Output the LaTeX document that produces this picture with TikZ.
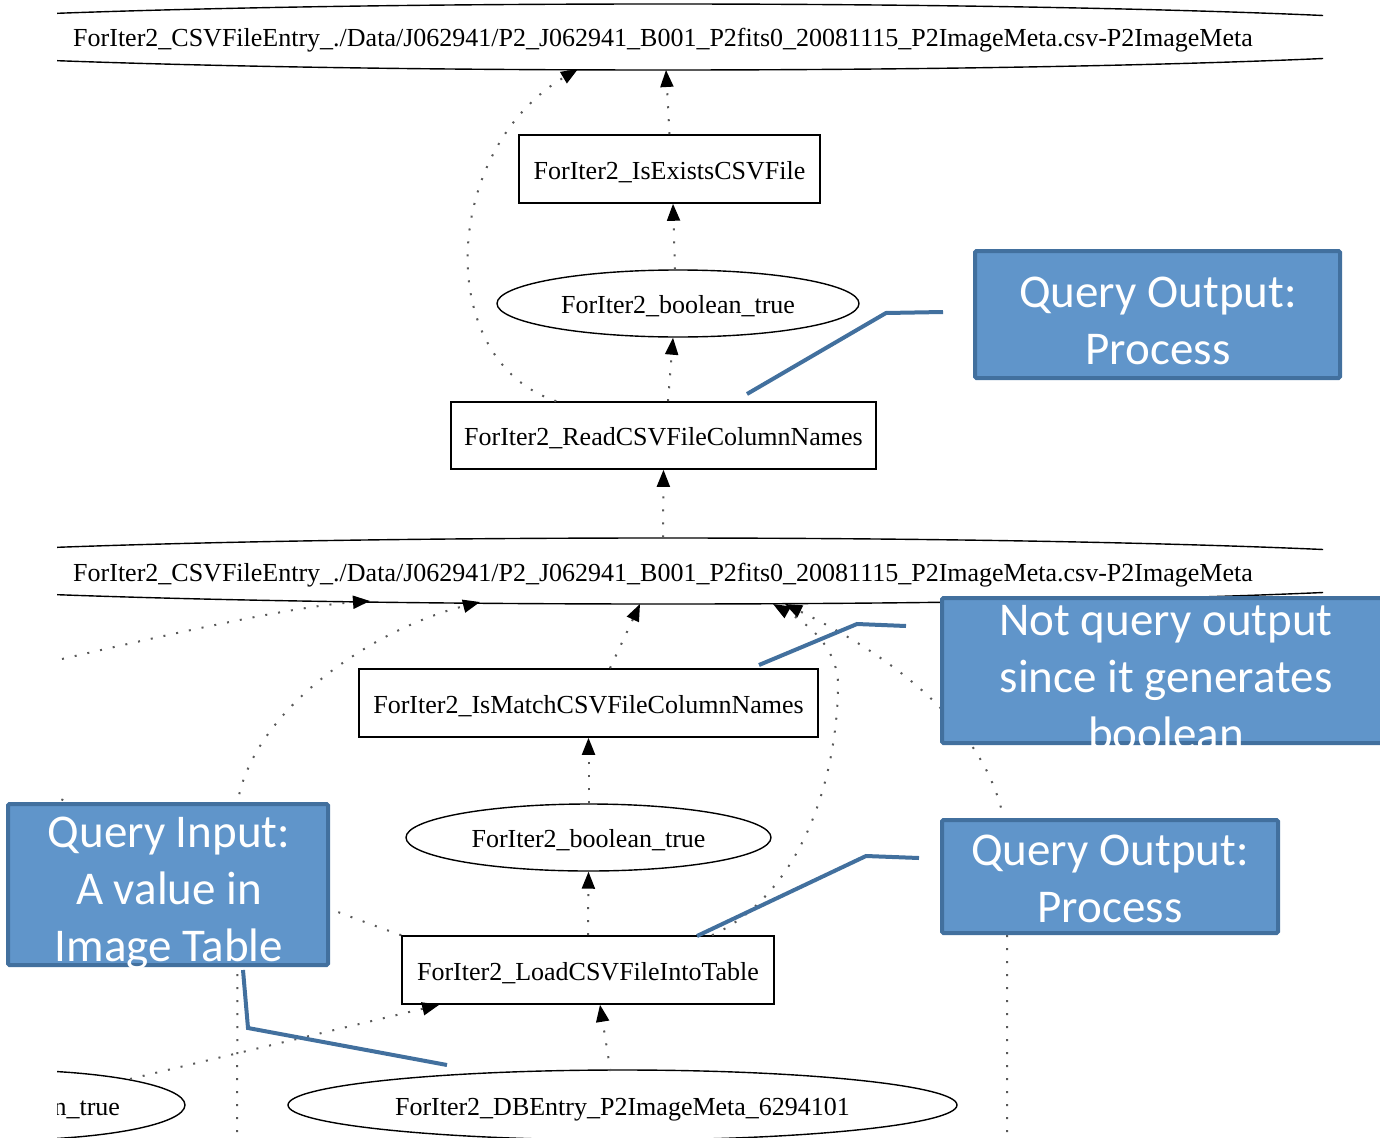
\documentclass[tikz,border=0pt]{standalone}
\usepackage{fontspec}
\setmainfont{Liberation Serif}
\newfontfamily\calloutfont{Carlito}
\usetikzlibrary{shapes.geometric,arrows.meta,calc}
\definecolor{calloutfill}{RGB}{96,149,202}
\definecolor{calloutborder}{RGB}{66,112,158}
\begin{document}
\begin{tikzpicture}[x=1pt,y=-1pt,
  gtext/.style={font=\fontsize{26}{31}\selectfont, inner sep=0pt, text height=20pt, text depth=0pt},
  procbox/.style={gtext, draw=black, line width=1.6pt, rectangle},
  dataell/.style={gtext, draw=black, line width=1.4pt, ellipse},
  depline/.style={draw=black!65, line width=2pt, dash pattern=on 2pt off 11pt},
  dep/.style={depline, -{Triangle[length=17pt,width=13pt,color=black]}},
  calloutbox/.style={draw=calloutborder, fill=calloutfill, line width=4pt, rectangle, inner sep=0pt, rounded corners=1.5pt},
  callouttext/.style={text=white, font=\calloutfont\fontsize{47}{57}\selectfont, align=center, inner sep=0pt},
  calloutline/.style={draw=calloutborder, line width=4pt},
]
\useasboundingbox (0,0) rectangle (1380,1137);

\begin{scope}
\clip (57,-10) rectangle (1323,1150);
% nodes
\node[dataell, minimum width=1740pt, minimum height=66pt] (E1) at (663,37) {ForIter2\_CSVFileEntry\_./Data/J062941/P2\_J062941\_B001\_P2fits0\_20081115\_P2ImageMeta.csv-P2ImageMeta};
\node[procbox, minimum width=301pt, minimum height=68pt] (IsExists) at (669.5,169) {ForIter2\_IsExistsCSVFile};
\node[dataell, minimum width=362pt, minimum height=67pt] (bool1) at (678,303.5) {ForIter2\_boolean\_true};
\node[procbox, minimum width=425pt, minimum height=67pt] (Read) at (663.5,435.5) {ForIter2\_ReadCSVFileColumnNames};
\node[dataell, minimum width=1740pt, minimum height=66pt] (E2) at (663,571) {ForIter2\_CSVFileEntry\_./Data/J062941/P2\_J062941\_B001\_P2fits0\_20081115\_P2ImageMeta.csv-P2ImageMeta};
\node[procbox, minimum width=459pt, minimum height=68pt] (IsMatch) at (588.5,703) {ForIter2\_IsMatchCSVFileColumnNames};
\node[dataell, minimum width=365pt, minimum height=67pt] (bool2) at (588.5,837.5) {ForIter2\_boolean\_true};
\node[procbox, minimum width=372pt, minimum height=68pt] (Load) at (588,970) {ForIter2\_LoadCSVFileIntoTable};
\node[dataell, minimum width=669pt, minimum height=70pt] (DB) at (622.5,1105) {ForIter2\_DBEntry\_P2ImageMeta\_6294101};
\node[dataell, minimum width=364pt, minimum height=70pt] (bool3) at (3,1105) {ForIter2\_boolean\_true};

% upper edges
\draw[dep] (IsExists.north) -- ($(E1.center)+(3,33)$);
\draw[dep] ($(bool1.north)+(-3,0)$) -- ($(IsExists.south)+(3.5,0)$);
\draw[dep] ($(Read.north)+(4.5,0)$) -- ($(bool1.south)+(-5,0)$);
\draw[dep] ($(Read.north west)+(106,0)$) .. controls (432,360) and (442,150) .. ($(E1.center)+(-85,32)$);
\draw[dep] (E2.north) -- (Read.south);

% lower edges
\coordinate (farleft) at (62,659);
\draw[dep] (farleft) .. controls (200,627) and (300,606) .. ($(E2.center)+(-293,30)$);
\coordinate (leftbottom) at (237,1145);
\draw[dep] (leftbottom) -- (238,800) .. controls (255,710) and (370,630) .. ($(E2.center)+(-183,31)$);
\draw[dep] ($(IsMatch.north)+(21.5,0)$) -- ($(E2.center)+(-23,33)$);
\draw[dep] (bool2.north) -- (IsMatch.south);
\draw[dep] (Load.north) -- (bool2.south);
\draw[dep] ($(Load.north)+(124,0)$) .. controls (790,900) and (835,800) .. (838,690) .. controls (840,650) and (810,625) .. ($(E2.center)+(110,33)$);
\coordinate (rightbottom) at (1007,1145);
\draw[dep] (rightbottom) -- (1007,850) .. controls (1005,740) and (900,660) .. ($(E2.center)+(122,33)$);
\coordinate (upleft) at (40,790);
\draw[depline] (Load.north west) .. controls (330,910) and (200,860) .. (upleft);
\draw[dep] ($(bool3.center)+(127,-26)$) -- ($(Load.south west)+(38,0)$);
\draw[dep] ($(DB.center)+(-12,-34)$) -- ($(Load.south)+(12,0)$);
\end{scope}

% callout lines
\coordinate (cA1) at (943,312); \coordinate (cA2) at (886,313); \coordinate (cA3) at (747,394);
\coordinate (cB1) at (906,626); \coordinate (cB2) at (857,624); \coordinate (cB3) at (759,665);
\coordinate (cC1) at (919,858); \coordinate (cC2) at (866,856); \coordinate (cC3) at (697,936);
\coordinate (cD1) at (243,970); \coordinate (cD2) at (248,1028); \coordinate (cD3) at (447,1065);
\draw[calloutline] (cA1) -- (cA2) -- (cA3);
\draw[calloutline] (cB1) -- (cB2) -- (cB3);
\draw[calloutline] (cC1) -- (cC2) -- (cC3);
\draw[calloutline] (cD1) -- (cD2) -- (cD3);

% callout boxes
\node[calloutbox, minimum width=365pt, minimum height=127pt] (boxA) at (1157.5,314.5) {};
\node[callouttext] (textA) at (1158,321) {Query Output:\\Process};
\node[calloutbox, minimum width=443pt, minimum height=145pt] (boxB) at (1163.5,670.5) {};
\node[callouttext] (textB) at (1166,678) {Not query output\\since it generates\\boolean};
\node[calloutbox, minimum width=336pt, minimum height=113pt] (boxC) at (1110,876.5) {};
\node[callouttext] (textC) at (1110,879) {Query Output:\\Process};
\node[calloutbox, minimum width=320pt, minimum height=161pt] (boxD) at (168,884.5) {};
\node[callouttext] (textD) at (169,893.5) {Query Input:\\A value in\\Image Table};
\end{tikzpicture}
\end{document}
